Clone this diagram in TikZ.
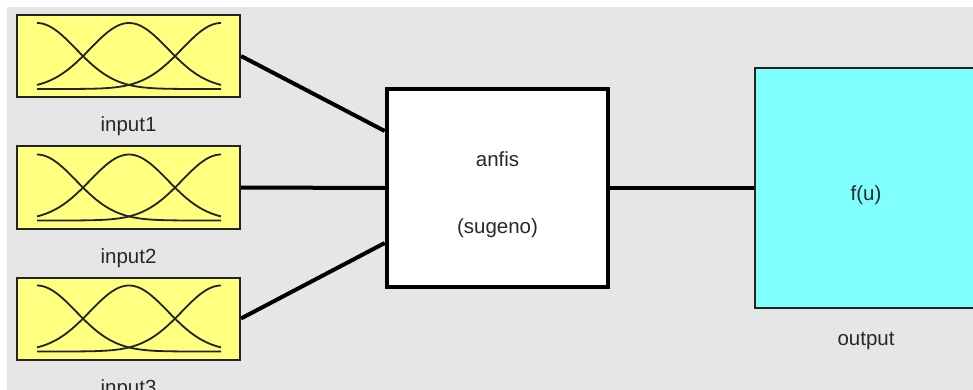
\documentclass[tikz,border=0pt]{standalone}
\usepackage{fontspec}
\setmainfont{Liberation Sans}
\definecolor{bgGray}{RGB}{230,230,230}
\definecolor{mfYellow}{RGB}{255,255,128}
\definecolor{outCyan}{RGB}{128,255,255}
\definecolor{txtGray}{RGB}{40,40,40}
\definecolor{edgeGray}{RGB}{35,35,35}
\begin{document}
\begin{tikzpicture}[x=1pt,y=-1pt,
  inbox/.style={draw=edgeGray,line width=2pt,fill=mfYellow,minimum width=223pt,minimum height=82pt,inner sep=0pt},
  fisbox/.style={draw=black,line width=4.5pt,fill=white,minimum width=221pt,minimum height=198pt,inner sep=0pt},
  outbox/.style={draw=edgeGray,line width=2pt,fill=outCyan,minimum width=240pt,minimum height=240pt,inner sep=0pt},
  lbl/.style={anchor=base,inner sep=0pt,text=txtGray,font=\fontsize{20.5}{23}\selectfont},
  conn/.style={draw=black,line width=4pt},
  mf/.style={draw=edgeGray,line width=1.8pt,smooth,samples=60}]
\useasboundingbox (0,0) rectangle (973,390);
\clip (0,0) rectangle (973,390);
\fill[white] (0,0) rectangle (973,390);
\fill[bgGray] (7,7) rectangle (973,390);
% input boxes
\node[inbox] (in1) at (128.5,56) {};
\node[inbox] (in2) at (128.5,187.5) {};
\node[inbox] (in3) at (128.5,318.5) {};
\foreach \yo in {0,131.5,262.5}{
  \begin{scope}[yshift=-\yo pt]
    \draw[mf] plot[domain=37:221] (\x,{89-66*exp(-0.5*((\x-37)/39)^2)});
    \draw[mf] plot[domain=37:221] (\x,{89-66*exp(-0.5*((\x-129)/39)^2)});
    \draw[mf] plot[domain=37:221] (\x,{89-66*exp(-0.5*((\x-221)/39)^2)});
  \end{scope}
}
\node[lbl] (l1) at (128.5,132) {input1};
\node[lbl] (l2) at (128.5,263) {input2};
\node[lbl] (l3) at (128.5,394) {input3};
% anfis
\node[fisbox] (fis) at (497.5,188) {};
\node[lbl] (t1) at (497.5,167) {anfis};
\node[lbl] (t2) at (497.5,233) {(sugeno)};
% output
\node[outbox] (out) at (875,188) {};
\node[lbl] (t3) at (866,200) {f(u)};
\node[lbl] (l4) at (866,345) {output};
% connectors
\draw[conn] (in1.east) -- ([yshift=57pt]fis.west);
\draw[conn] (in2.east) -- (fis.west);
\draw[conn] (in3.east) -- ([yshift=-55pt]fis.west);
\draw[conn] (fis.east) -- (out.west);
\end{tikzpicture}
\end{document}
